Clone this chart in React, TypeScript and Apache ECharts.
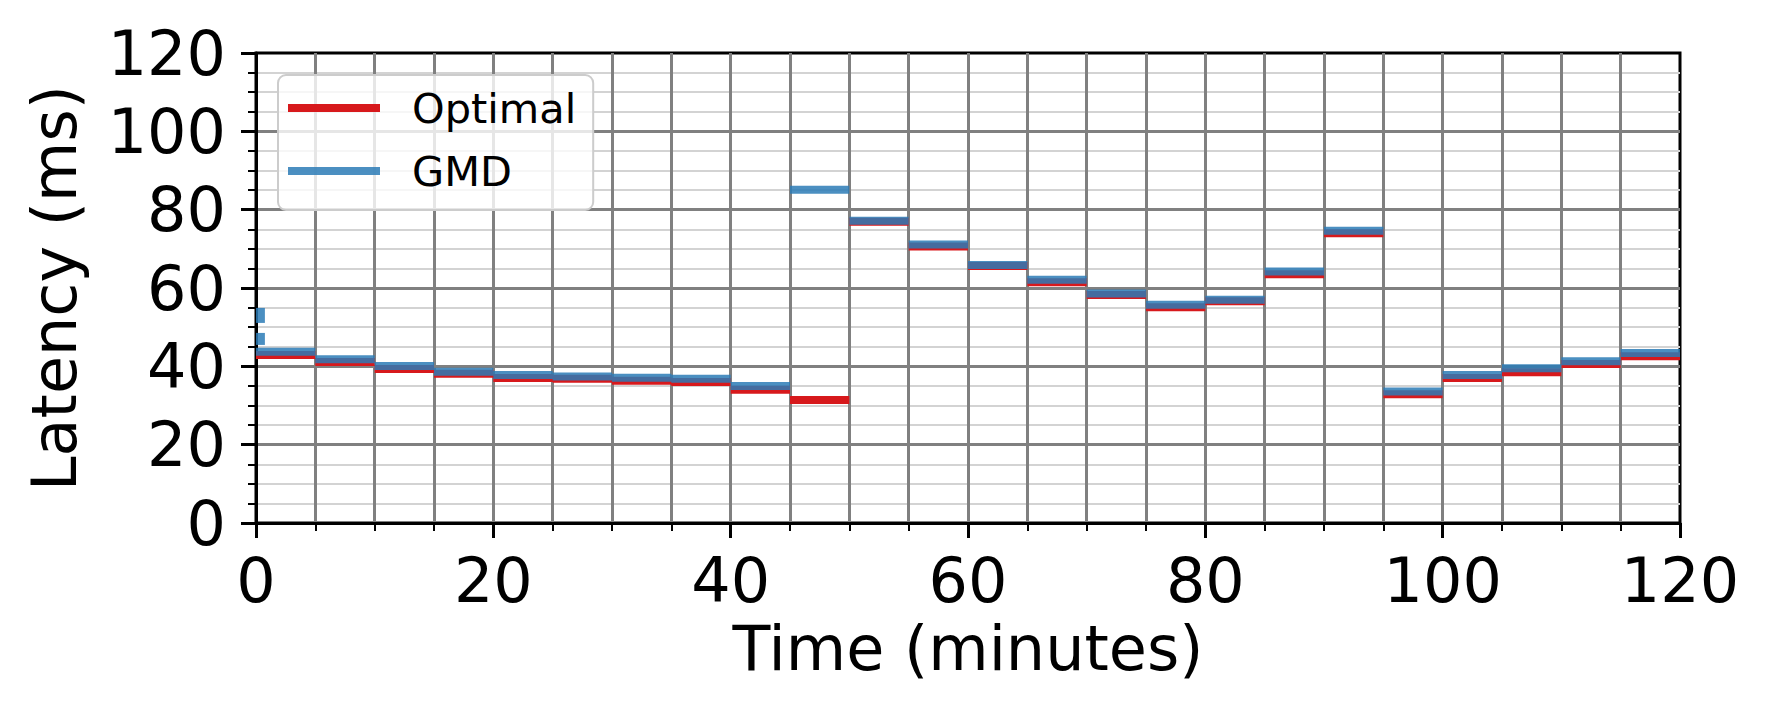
import React, { useEffect, useRef } from "react";
import * as echarts from "echarts";

const FONT = "DejaVu Sans";

// Segment start times (minutes); each segment lasts 5 minutes
const segmentStarts = [0, 5, 10, 15, 20, 25, 30, 35, 40, 45, 50, 55, 60, 65, 70, 75, 80, 85, 90, 95, 100, 105, 110, 115];
const segmentLength = 5;

const optimalLatency = [42.9, 41.1, 39.3, 38.1, 37.0, 36.8, 36.3, 36.0, 34.0, 31.4, 76.9, 70.6, 65.6, 61.5, 58.2, 55.1, 56.6, 63.5, 74.0, 32.9, 37.0, 38.5, 40.6, 42.6];
const gmdLatency = [43.7, 41.8, 40.1, 38.6, 37.8, 37.4, 37.1, 36.8, 35.0, 85.1, 77.2, 71.1, 65.9, 62.1, 58.6, 55.7, 57.0, 64.2, 74.6, 33.6, 37.8, 39.5, 41.3, 43.4];
// Early GMD transients visible at t≈0
const gmdStartValues = [53, 47];
const gmdStartDuration = 0.75;

const xTicks = [0, 20, 40, 60, 80, 100, 120];
const yTicks = [0, 20, 40, 60, 80, 100, 120];

function stepData(values: number[]) {
  const out: any[] = [];
  values.forEach((v, i) => {
    const t0 = segmentStarts[i];
    out.push([t0, v]);
    out.push([t0 + segmentLength, v]);
    out.push([t0 + segmentLength, "-"]);
  });
  return out;
}

export default function App() {
  const ref = useRef<HTMLDivElement>(null);
  useEffect(() => {
    if (!ref.current) return;
    const chart = echarts.init(ref.current, undefined, { renderer: "svg" });
    const RED = "#d7191c";
    const BLUE = "#2c7bb6";
    const startWidths = [15, 12];
    const option: any = {
      animation: false,
      backgroundColor: "#ffffff",
      grid: {
        left: 256,
        right: 90,
        top: 53,
        bottom: 196,
        show: true,
        borderColor: "#000",
        borderWidth: 3,
        backgroundColor: "transparent",
      },
      legend: {
        orient: "vertical",
        left: 278,
        top: 75,
        data: [
          { name: "Optimal", itemStyle: { color: RED, borderWidth: 0 } },
          { name: "GMD", itemStyle: { color: BLUE, opacity: 0.85, borderWidth: 0 } },
        ],
        icon: "rect",
        itemWidth: 92,
        itemHeight: 8,
        itemGap: 21,
        itemStyle: { borderWidth: 0 },
        textStyle: { fontSize: 41.5, fontFamily: FONT, color: "#000", padding: [0, 0, 0, 27] },
        backgroundColor: "rgba(255,255,255,0.8)",
        borderColor: "#cccccc",
        borderWidth: 2,
        borderRadius: 8,
        padding: [12, 17, 18, 10],
      },
      xAxis: {
        type: "value",
        min: xTicks[0],
        max: xTicks[xTicks.length - 1],
        interval: xTicks[1] - xTicks[0],
        name: "Time (minutes)",
        nameLocation: "middle",
        nameGap: 94,
        nameTextStyle: { fontSize: 62, fontFamily: FONT, color: "#000" },
        axisLine: { show: true, onZero: false, lineStyle: { color: "#000", width: 3 } },
        axisTick: { show: true, length: 15, lineStyle: { color: "#000", width: 3 } },
        minorTick: { show: true, splitNumber: 4, length: 8, lineStyle: { color: "#000", width: 2 } },
        axisLabel: { fontSize: 62, fontFamily: FONT, color: "#000", margin: 26 },
        splitLine: { show: true, showMinLine: false, showMaxLine: false, lineStyle: { color: "#808080", width: 3 } },
        minorSplitLine: { show: true, lineStyle: { color: "#808080", width: 3 } },
      },
      yAxis: {
        type: "value",
        min: yTicks[0],
        max: yTicks[yTicks.length - 1],
        interval: yTicks[1] - yTicks[0],
        name: "Latency (ms)",
        nameLocation: "middle",
        nameGap: 171,
        nameTextStyle: { fontSize: 62, fontFamily: FONT, color: "#000" },
        axisLine: { show: true, onZero: false, lineStyle: { color: "#000", width: 3 } },
        axisTick: { show: true, length: 15, lineStyle: { color: "#000", width: 3 } },
        minorTick: { show: true, splitNumber: 4, length: 8, lineStyle: { color: "#000", width: 2 } },
        axisLabel: { fontSize: 62, fontFamily: FONT, color: "#000", margin: 30 },
        splitLine: { show: true, showMinLine: false, showMaxLine: false, lineStyle: { color: "#808080", width: 3 } },
        minorSplitLine: { show: true, lineStyle: { color: "#d3d3d3", width: 2.2 } },
      },
      series: [
        {
          name: "Optimal",
          type: "line",
          data: stepData(optimalLatency),
          symbol: "none",
          connectNulls: false,
          lineStyle: { color: RED, width: 8, cap: "butt" },
          itemStyle: { color: RED },
          z: 3,
        },
        {
          name: "GMD",
          type: "line",
          data: stepData(gmdLatency),
          symbol: "none",
          connectNulls: false,
          lineStyle: { color: BLUE, width: 8, opacity: 0.85, cap: "butt" },
          itemStyle: { color: BLUE, opacity: 0.85 },
          z: 4,
        },
        ...gmdStartValues.map((v, i) => ({
          name: "GMD start " + i,
          type: "line",
          data: [
            [0, v],
            [gmdStartDuration, v],
          ],
          symbol: "none",
          clip: true,
          lineStyle: { color: BLUE, width: startWidths[i], opacity: 0.85, cap: "butt" },
          z: 4,
        })),
      ],
    };
    chart.setOption(option);
    return () => chart.dispose();
  }, []);
  return (
    <div
      ref={ref}
      style={{ position: "fixed", left: 0, top: 0, width: 1770, height: 719 }}
    />
  );
}
